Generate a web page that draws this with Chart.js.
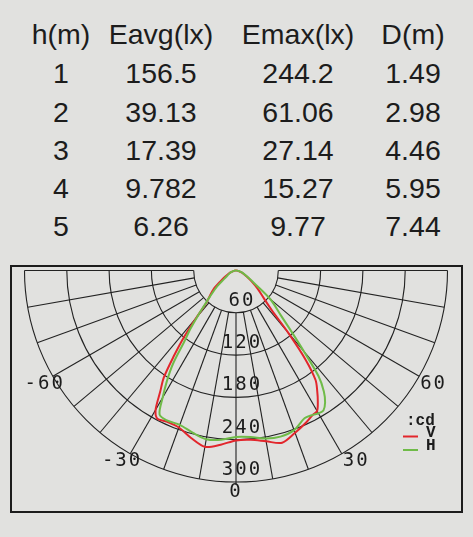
<!DOCTYPE html>
<html>
<head>
<meta charset="utf-8">
<script src="https://cdn.jsdelivr.net/npm/chart.js@4.4.1/dist/chart.umd.min.js"></script>
<style>
  html, body { margin: 0; padding: 0; }
  body { width: 473px; height: 537px; background: #e1e1df; position: relative; overflow: hidden; font-family: "Liberation Sans", Arial, sans-serif; }
  .cell { position: absolute; font-size: 28.5px; line-height: 28px; color: #1c1c1c; transform: translateX(-50%); white-space: nowrap; }
  #box { position: absolute; left: 10px; top: 265px; width: 449px; height: 244px; border: 2px solid #1c1c1c; }
  #polar { position: absolute; left: 0; top: 0; }
</style>
</head>
<body>
<div id="table"></div>
<div id="box"></div>
<canvas id="polar" width="473" height="537"></canvas>
<script>
// table of illuminance per mounting height
const headers = ["h(m)", "Eavg(lx)", "Emax(lx)", "D(m)"];
const heights = ["1", "2", "3", "4", "5"];
const eavg = ["156.5", "39.13", "17.39", "9.782", "6.26"];
const emax = ["244.2", "61.06", "27.14", "15.27", "9.77"];
const dist = ["1.49", "2.98", "4.46", "5.95", "7.44"];

// polar curve, angle from nadir (deg) -> intensity (cd)
const angles = [-90, -80, -70, -60, -55, -50, -45, -42, -40, -38, -36, -34, -32, -30, -28, -25, -20, -15, -10, -5,
  0, 5, 10, 15, 20, 25, 28, 30, 32, 34, 36, 38, 40, 42, 45, 50, 55, 60, 70, 80, 90];
const vCd = [0, 3, 9, 18, 27, 42, 54, 65, 88, 120, 150, 183, 203, 228, 238, 236, 237, 246, 254, 248,
  241, 241, 246, 253, 245, 237, 232, 230, 219, 206, 192, 160, 115, 76, 56, 40, 27, 18, 9, 3, 0];
const hCd = [0, 3, 8, 14, 20, 35, 52, 68, 85, 105, 125, 160, 185, 208, 231, 234, 233, 238, 243, 241,
  236, 237, 242, 244, 241, 231, 232, 234, 234, 226, 212, 190, 150, 120, 90, 64, 32, 20, 10, 4, 0];

const ringValues = [60, 120, 180, 240, 300];
const angleLabels = [-60, -30, 0, 30, 60];

// fill the table
const colX = [61, 161, 298, 413];
const rowTop = [20, 59, 97.5, 135.8, 174.1, 212.4];
const tableEl = document.getElementById("table");
const rows = [headers];
heights.forEach((h, i) => rows.push([h, eavg[i], emax[i], dist[i]]));
rows.forEach((r, ri) => {
  r.forEach((txt, ci) => {
    const d = document.createElement("div");
    d.className = "cell";
    d.style.left = colX[ci] + "px";
    d.style.top = rowTop[ri] + "px";
    d.textContent = txt;
    tableEl.appendChild(d);
  });
});

function toXY(values) {
  return angles.map((a, i) => {
    const t = (a * Math.PI) / 180;
    return { x: values[i] * Math.sin(t), y: -values[i] * Math.cos(t) };
  });
}

const RED = "#e2262c";
const GREEN = "#6fbb48";

const polarGrid = {
  id: "polarGrid",
  beforeDatasetsDraw(chart) {
    const { ctx, scales } = chart;
    const cx = scales.x.getPixelForValue(0);
    const cy = scales.y.getPixelForValue(0);
    const k = scales.x.getPixelForValue(1) - cx;
    ctx.save();
    ctx.strokeStyle = "#222";
    ctx.lineWidth = 1.1;
    ringValues.forEach((v) => {
      ctx.beginPath();
      ctx.arc(cx, cy, v * k, 0, Math.PI);
      ctx.stroke();
    });
    for (let a = -90; a <= 90; a += 10) {
      const t = (a * Math.PI) / 180;
      const r0 = ringValues[0] * k;
      const r1 = (a === 0 ? 304 : 300) * k;
      ctx.beginPath();
      ctx.moveTo(cx + r0 * Math.sin(t), cy + r0 * Math.cos(t));
      ctx.lineTo(cx + r1 * Math.sin(t), cy + r1 * Math.cos(t));
      ctx.stroke();
    }
    // ring labels
    ctx.fillStyle = "#1c1c1c";
    ctx.font = '19px "DejaVu Sans Mono"';
    ctx.letterSpacing = "2px";
    ctx.textBaseline = "middle";
    ctx.textAlign = "center";
    ringValues.forEach((v) => {
      ctx.fillText(String(v), cx + 6, cy + v * k - 12);
    });
    // angle labels
    const R = 300 * k;
    angleLabels.forEach((a) => {
      const t = (a * Math.PI) / 180;
      const px = cx + R * Math.sin(t);
      const py = cy + R * Math.cos(t);
      if (a === 0) {
        ctx.textAlign = "center";
        ctx.fillText("0", px, py + 10.5);
      } else if (a < 0) {
        ctx.textAlign = "right";
        ctx.fillText(String(a), px + 12, py + 7.5);
      } else {
        ctx.textAlign = "left";
        ctx.fillText(String(a), px + 1, py + 7.5);
      }
    });
    ctx.restore();
  },
  afterDatasetsDraw(chart) {
    const { ctx } = chart;
    ctx.save();
    ctx.fillStyle = "#1c1c1c";
    ctx.font = 'bold 16px "Liberation Mono"';
    ctx.textBaseline = "alphabetic";
    ctx.textAlign = "left";
    ctx.fillText(":cd", 406, 425);
    ctx.fillText("V", 426, 437);
    ctx.fillText("H", 426, 450);
    ctx.lineWidth = 2;
    ctx.strokeStyle = RED;
    ctx.beginPath();
    ctx.moveTo(403, 436.5);
    ctx.lineTo(418, 436.5);
    ctx.stroke();
    ctx.strokeStyle = GREEN;
    ctx.beginPath();
    ctx.moveTo(403, 450);
    ctx.lineTo(418, 450);
    ctx.stroke();
    ctx.restore();
  },
};

new Chart(document.getElementById("polar").getContext("2d"), {
  type: "scatter",
  data: {
    datasets: [
      { label: "H", data: toXY(hCd), showLine: true, borderColor: GREEN, borderWidth: 2, pointRadius: 0, tension: 0.3, clip: false },
      { label: "V", data: toXY(vCd), showLine: true, borderColor: RED, borderWidth: 2, pointRadius: 0, tension: 0.3, clip: false },
    ],
  },
  options: {
    responsive: false,
    animation: false,
    events: [],
    layout: { padding: { left: 24.5, right: 25.5, top: 270.5, bottom: 55 } },
    scales: {
      x: { type: "linear", min: -300, max: 300, display: false },
      y: { type: "linear", min: -300, max: 0, display: false },
    },
    plugins: { legend: { display: false }, tooltip: { enabled: false } },
  },
  plugins: [polarGrid],
});
</script>
</body>
</html>
